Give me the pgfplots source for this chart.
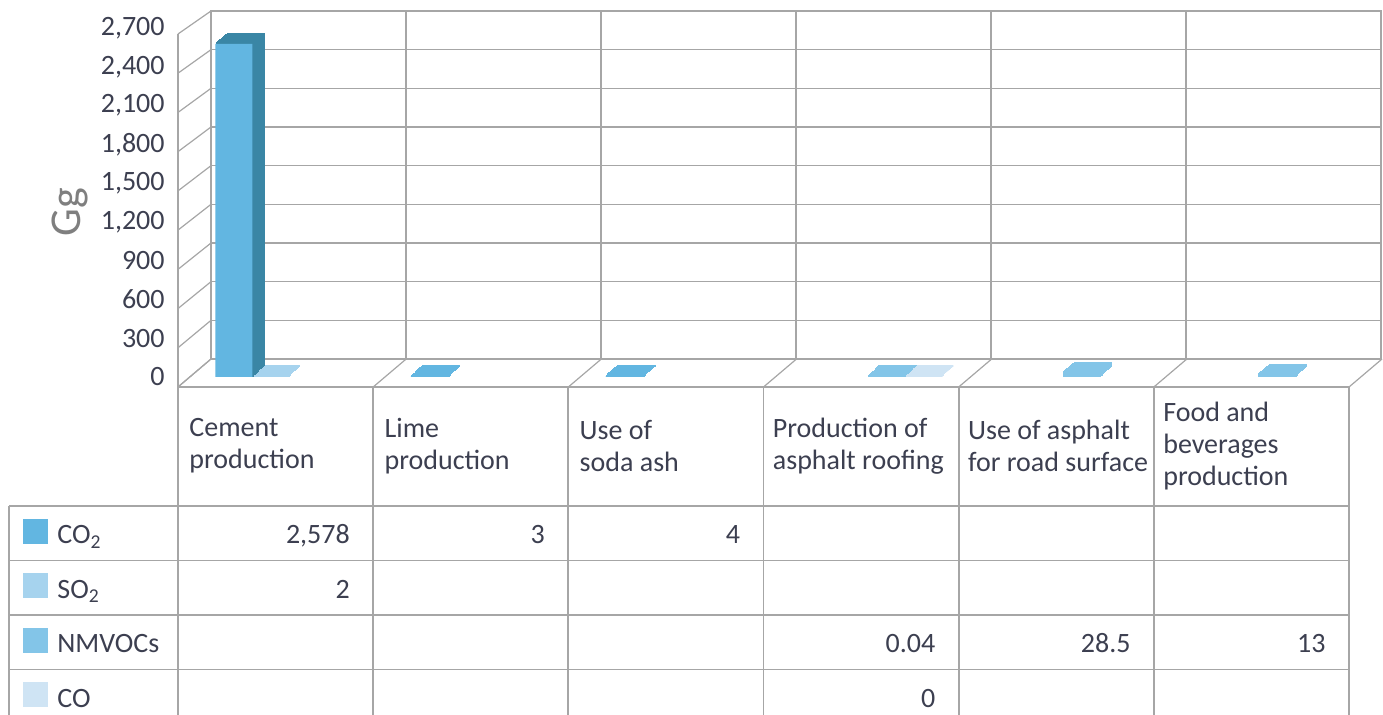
\documentclass[border=0pt]{standalone}
\usepackage{fontspec}
\setmainfont{Carlito}
\usepackage{pgfplots}
\pgfplotsset{compat=1.18}
\usepackage{pgfplotstable}

\definecolor{cco2}{HTML}{62B6E1}
\definecolor{cco2d}{HTML}{3A86A5}
\definecolor{cso2}{HTML}{A6D3EE}
\definecolor{cnm}{HTML}{83C5E8}
\definecolor{cco}{HTML}{CFE4F4}
\definecolor{gridc}{HTML}{A6A6A6}
\definecolor{txt}{HTML}{3C3F50}
\definecolor{lab}{HTML}{7F7F7F}

\pgfplotstableread{
x co2 so2 nmvoc co
0 2578 2 nan nan
1 3 nan nan nan
2 4 nan nan nan
3 nan nan 0.04 0
4 nan nan 28.5 nan
5 nan nan 13 nan
}\data

\begin{document}
\begin{tikzpicture}
\useasboundingbox (0,0) rectangle (691.5pt,-357.5pt);
% back wall
\begin{axis}[at={(105.5pt,-179.5pt)}, anchor=south west, scale only axis,
  width=585pt, height=174pt,
  xmin=-0.5, xmax=5.5, ymin=0, ymax=2700,
  xtick={-0.5,0.5,1.5,2.5,3.5,4.5,5.5}, ytick={0,300,...,2700},
  xticklabels={}, yticklabels={}, major tick length=0pt, grid=major,
  grid style={gridc, line width=0.6pt}, axis line style={gridc, line width=0.6pt}]
\end{axis}
% floor and left side
\begin{scope}[x=0.5pt, y=-0.5pt, gridc, line width=0.6pt]
  \foreach \k in {0,...,9} \draw (211,{359-\k*38.667}) -- (178,{387-\k*39.222});
  \foreach \k in {0,...,6} \draw ({211+195.17*\k},359) -- ({178+195.17*\k},387);
  \draw (178,387) -- (1349,387);
\end{scope}
% table grid
\begin{scope}[x=0.5pt, y=-0.5pt, gridc, line width=0.85pt]
  \draw (178,34) -- (178,716);
  \foreach \k in {1,...,6} \draw ({178+195.17*\k},387) -- ({178+195.17*\k},716);
  \draw (9,506) -- (9,716);
  \foreach \y in {506,560.5,615,669.5} \draw (9,\y) -- (1349,\y);
\end{scope}
% bars
\begin{axis}[at={(94.5pt,-188.5pt)}, anchor=south west, scale only axis,
  width=585.5pt, height=174.5pt,
  xmin=-0.5, xmax=5.5, ymin=0, ymax=2700, clip=false,
  axis line style={draw=none}, xtick=\empty, ytick={0,300,...,2700},
  major tick length=0pt, scaled y ticks=false,
  /pgf/number format/1000 sep={,},
  /pgf/number format/assume math mode=true,
  yticklabel style={font=\fontsize{14}{16}\selectfont, text=txt, inner sep=0pt, anchor=east, xshift=-12pt},
  ylabel={Gg},
  every axis y label/.style={at={(axis description cs:-0.1016,0.473)}, rotate=90, anchor=center,
    font=\fontsize{22}{26}\selectfont, text=lab}]
\pgfplotsinvokeforeach{1,0.9,0.8,0.7,0.6,0.5,0.4,0.3,0.2,0.1}{
  \addplot[ybar, bar width=0.19, bar shift=0.26, fill=cco, draw=cco, line width=0.8pt,
    xshift=#1*6pt, yshift=#1*5.5pt, forget plot] table[x=x, y=co]{\data};
  \addplot[ybar, bar width=0.19, bar shift=0.07, fill=cnm, draw=cnm, line width=0.8pt,
    xshift=#1*6pt, yshift=#1*5.5pt, forget plot] table[x=x, y=nmvoc]{\data};
  \addplot[ybar, bar width=0.19, bar shift=-0.09, fill=cso2, draw=cso2, line width=0.8pt,
    xshift=#1*6pt, yshift=#1*5.5pt, forget plot] table[x=x, y=so2]{\data};
  \addplot[ybar, bar width=0.19, bar shift=-0.27, fill=cco2, draw=cco2, line width=0.8pt,
    xshift=#1*6pt, yshift=#1*5.5pt, forget plot, restrict x to domain=0.5:5.5] table[x=x, y=co2]{\data};
  \addplot[ybar, bar width=0.19, bar shift=-0.27, fill=cco2d, draw=cco2d, line width=0.8pt,
    xshift=#1*6pt, yshift=#1*5pt, forget plot, restrict x to domain=-0.5:0.5] table[x=x, y=co2]{\data};
}
\addplot[ybar, bar width=0.19, bar shift=-0.27, fill=cco2, draw=none] table[x=x, y=co2]{\data};
\end{axis}
% table text
\begin{scope}[x=0.5pt, y=-0.5pt, every node/.style={text=txt, font=\fontsize{14}{16}\selectfont, inner sep=0pt}]
  \node[anchor=west, align=left] at (189,446) {Cement\\production};
  \node[anchor=west, align=left] at (384.2,446) {Lime\\production};
  \node[anchor=west, align=left] at (579.3,446) {Use of\\soda ash};
  \node[anchor=west, align=left] at (772.5,446) {Production of\\asphalt roofing};
  \node[anchor=west, align=left] at (967.7,446) {Use of asphalt\\for road surface};
  \node[anchor=west, align=left] at (1162.9,446) {Food and\\beverages\\production};
  % legend keys
  \fill[cco2] (23,519) rectangle (48,544);
  \fill[cso2] (23,573.5) rectangle (48,598.5);
  \fill[cnm] (23,628) rectangle (48,653);
  \fill[cco] (23,682.5) rectangle (48,707.5);
  \node[anchor=base west] at (57,544) {CO\textsubscript{2}};
  \node[anchor=base west] at (57,598.5) {SO\textsubscript{2}};
  \node[anchor=base west] at (57,653) {NMVOCs};
  \node[anchor=base west] at (57,707.5) {CO};
  % values
  \node[anchor=base east] at (350.2,544) {2,578};
  \node[anchor=base east] at (545.3,544) {3};
  \node[anchor=base east] at (740.5,544) {4};
  \node[anchor=base east] at (350.2,598.5) {2};
  \node[anchor=base east] at (935.7,653) {0.04};
  \node[anchor=base east] at (1130.9,653) {28.5};
  \node[anchor=base east] at (1326,653) {13};
  \node[anchor=base east] at (935.7,707.5) {0};
\end{scope}
\end{tikzpicture}
\end{document}
